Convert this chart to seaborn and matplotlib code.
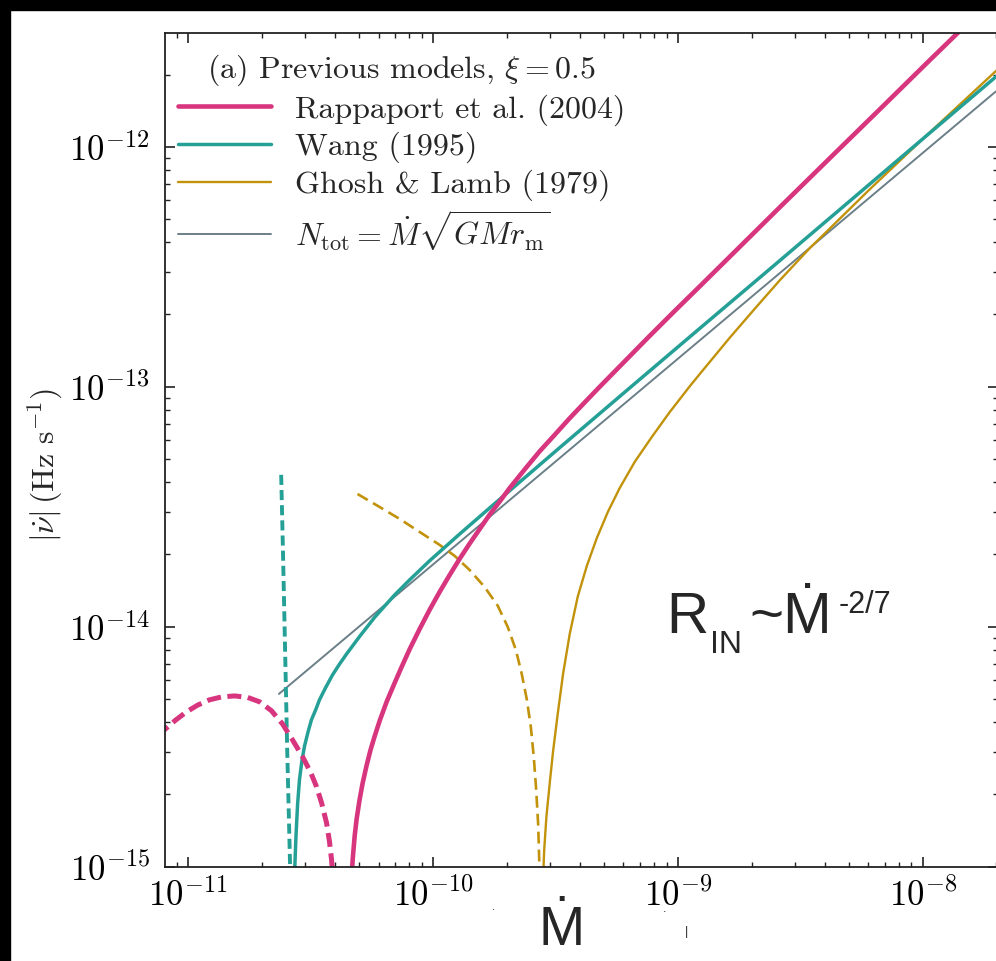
import numpy as np
import pandas as pd
import matplotlib
matplotlib.use("Agg")
import matplotlib.pyplot as plt
import seaborn as sns
from matplotlib.lines import Line2D
from matplotlib.patches import Rectangle

# ---------------- data ----------------
# Rappaport et al. (2004): solid (spin-up) branch
rap_x = [4.65e-11, 4.70e-11, 4.79e-11, 4.88e-11, 5.02e-11, 5.16e-11, 5.36e-11, 5.56e-11,
         5.78e-11, 6.06e-11, 6.47e-11, 6.98e-11, 7.45e-11, 8.03e-11, 8.82e-11, 9.69e-11,
         1.065e-10, 1.17e-10, 1.285e-10, 1.413e-10, 1.552e-10, 1.705e-10, 1.873e-10,
         2.058e-10, 2.37e-10, 2.729e-10, 3.143e-10, 3.619e-10, 4.168e-10, 4.799e-10,
         6.073e-10, 7.687e-10, 9.721e-10, 1.23e-9, 1.792e-9, 2.612e-9, 4.18e-9, 6.692e-9,
         1.071e-8, 1.381e-8, 1.636e-8]
rap_y = [8.80e-16, 1.066e-15, 1.34e-15, 1.58e-15, 1.905e-15, 2.22e-15, 2.64e-15, 3.06e-15,
         3.49e-15, 4.05e-15, 4.86e-15, 5.83e-15, 6.79e-15, 8.04e-15, 9.76e-15, 1.174e-14,
         1.395e-14, 1.64e-14, 1.915e-14, 2.22e-14, 2.55e-14, 2.93e-14, 3.32e-14,
         3.78e-14, 4.52e-14, 5.38e-14, 6.30e-14, 7.39e-14, 8.60e-14, 9.99e-14,
         1.276e-13, 1.63e-13, 2.07e-13, 2.62e-13, 3.83e-13, 5.60e-13, 8.97e-13, 1.435e-12,
         2.30e-12, 2.96e-12, 3.50e-12]
# Rappaport et al. (2004): dashed (spin-down) branch
rap_neg_x = [7.5e-12, 8.0e-12, 8.88e-12, 9.85e-12, 1.092e-11, 1.223e-11, 1.369e-11, 1.547e-11,
             1.748e-11, 1.957e-11, 2.19e-11, 2.43e-11, 2.67e-11, 2.934e-11, 3.16e-11,
             3.347e-11, 3.51e-11, 3.677e-11, 3.78e-11, 3.855e-11, 3.91e-11]
rap_neg_y = [3.50e-15, 3.71e-15, 4.07e-15, 4.41e-15, 4.70e-15, 4.95e-15, 5.09e-15, 5.14e-15,
             5.07e-15, 4.86e-15, 4.46e-15, 3.93e-15, 3.37e-15, 2.87e-15, 2.48e-15,
             2.15e-15, 1.84e-15, 1.52e-15, 1.27e-15, 1.066e-15, 8.8e-16]

# Wang (1995)
wang_x = [2.72e-11, 2.735e-11, 2.76e-11, 2.80e-11, 2.85e-11, 2.92e-11, 2.99e-11, 3.09e-11,
          3.19e-11, 3.32e-11, 3.44e-11, 3.64e-11, 3.89e-11, 4.16e-11, 4.44e-11, 5.02e-11,
          5.78e-11, 6.98e-11, 8.03e-11, 9.69e-11, 1.285e-10, 1.821e-10, 3.294e-10,
          6.37e-10, 1.23e-9, 2.49e-9, 5.05e-9, 9.75e-9, 1.99e-8, 2.17e-8]
wang_y = [8.80e-16, 1.066e-15, 1.356e-15, 1.81e-15, 2.297e-15, 2.78e-15, 3.18e-15, 3.64e-15,
          4.085e-15, 4.50e-15, 4.95e-15, 5.55e-15, 6.29e-15, 6.99e-15, 7.69e-15, 9.10e-15,
          1.093e-14, 1.356e-14, 1.565e-14, 1.88e-14, 2.43e-14, 3.31e-14, 5.57e-14,
          9.89e-14, 1.75e-13, 3.22e-13, 5.95e-13, 1.054e-12, 1.957e-12, 2.12e-12]
wang_neg_x = [2.40e-11, 2.44e-11, 2.49e-11, 2.54e-11, 2.61e-11, 2.626e-11]
wang_neg_y = [4.29e-14, 2.09e-14, 8.0e-15, 3.06e-15, 1.0e-15, 8.8e-16]

# Ghosh & Lamb (1979)
gl_x = [2.815e-10, 2.847e-10, 2.906e-10, 2.999e-10, 3.093e-10, 3.233e-10, 3.399e-10,
        3.619e-10, 3.90e-10, 4.25e-10, 4.67e-10, 5.18e-10, 5.79e-10, 6.67e-10, 7.83e-10,
        9.28e-10, 1.12e-9, 1.23e-9, 1.63e-9, 2.06e-9, 2.612e-9, 3.46e-9, 6.09e-9,
        1.071e-8, 1.993e-8, 2.17e-8]
gl_y = [8.80e-16, 1.174e-15, 1.61e-15, 2.23e-15, 3.01e-15, 4.33e-15, 6.35e-15,
        9.32e-15, 1.33e-14, 1.79e-14, 2.34e-14, 3.006e-14, 3.78e-14, 4.86e-14, 6.17e-14,
        7.85e-14, 1.005e-13, 1.13e-13, 1.60e-13, 2.11e-13, 2.78e-13, 3.78e-13, 6.66e-13,
        1.15e-12, 2.07e-12, 2.24e-12]
gl_neg_x = [4.92e-11, 6.06e-11, 7.31e-11, 8.82e-11, 1.065e-10, 1.227e-10, 1.413e-10,
            1.627e-10, 1.84e-10, 2.02e-10, 2.18e-10, 2.30e-10, 2.415e-10, 2.51e-10,
            2.58e-10, 2.64e-10, 2.69e-10, 2.716e-10, 2.729e-10]
gl_neg_y = [3.57e-14, 3.15e-14, 2.81e-14, 2.48e-14, 2.19e-14, 1.97e-14, 1.72e-14,
            1.46e-14, 1.22e-14, 9.97e-15, 8.0e-15, 6.41e-15, 5.00e-15, 3.82e-15,
            2.87e-15, 2.09e-15, 1.49e-15, 1.066e-15, 8.8e-16]

# N_tot = Mdot sqrt(G M r_m)
ntot_x = [2.35e-11, 1.23e-9, 1.99e-8]
ntot_y = [5.24e-15, 1.56e-13, 1.70e-12]

legend_title = r"(a) Previous models, $\xi = 0.5$"
labels = ["Rappaport et al. (2004)", "Wang (1995)", "Ghosh & Lamb (1979)",
          r"$N_{\rm tot} = \dot{M}\sqrt{GMr_{\rm m}}$"]

# ---------------- style ----------------
sns.set_style("ticks")
plt.rcParams["font.family"] = ["cmr10", "DejaVu Serif"]
plt.rcParams["mathtext.fontset"] = "cm"
plt.rcParams["axes.formatter.use_mathtext"] = True

PINK = "#d8357f"
TEAL = "#25a096"
GOLD = "#c1920a"
GREY = "#6b7f88"

W, H = 996, 961
fig = plt.figure(figsize=(W / 100, H / 100), dpi=100)
fig.patch.set_facecolor("white")
ax = fig.add_axes([165 / W, (H - 866.5) / H, (998 - 165) / W, (866.5 - 33.3) / H])
ax.set_facecolor("white")

def draw(x, y, color, lw, ls="-"):
    df = pd.DataFrame({"x": x, "y": y})
    sns.lineplot(data=df, x="x", y="y", ax=ax, color=color, lw=lw, sort=False,
                 estimator=None, linestyle=ls, legend=False)

draw(ntot_x, ntot_y, GREY, 1.4)
draw(gl_x, gl_y, GOLD, 1.7)
draw(gl_neg_x, gl_neg_y, GOLD, 1.9, (0, (4.5, 2.3)))
draw(wang_x, wang_y, TEAL, 2.5)
draw(wang_neg_x, wang_neg_y, TEAL, 2.8, (0, (2.6, 1.3)))
draw(rap_x, rap_y, PINK, 3.3)
draw(rap_neg_x, rap_neg_y, PINK, 3.6, (0, (2.8, 1.3)))

ax.set_xscale("log")
ax.set_yscale("log")
ax.set_xlim(8.05e-12, 2.03e-8)
ax.set_ylim(1e-15, 2.97e-12)
ax.set_xlabel("")
ax.set_ylabel("")

for s in ax.spines.values():
    s.set_linewidth(1.3)
    s.set_color("#222222")
ax.tick_params(which="both", direction="in", top=True, right=True, colors="#222222",
               labelsize=25, labelcolor="black")
ax.tick_params(which="major", length=7, width=1.2)
ax.tick_params(which="minor", length=3.5, width=1.0)
ax.tick_params(axis="x", pad=8)
ax.tick_params(axis="y", pad=11)

handles = [Line2D([], [], color=PINK, lw=3.3), Line2D([], [], color=TEAL, lw=2.5),
           Line2D([], [], color=GOLD, lw=1.7), Line2D([], [], color=GREY, lw=1.4)]
leg = ax.legend(handles, labels, title=legend_title, loc="upper left",
                bbox_to_anchor=(0.008, 0.985), frameon=False, fontsize=23,
                title_fontsize=23, handlelength=2.9, handletextpad=0.75,
                labelspacing=0.2, borderaxespad=0.0, borderpad=0.2)

fig.text(45 / W, 1 - 465 / H, r"$|\dot{\nu}|\,(\mathrm{Hz\ s^{-1}})$", rotation=90,
         ha="center", va="center", fontsize=23)

# annotation R_IN ~ Mdot^-2/7
sans = ["Liberation Sans", "DejaVu Sans"]
fig.text(666 / W, 1 - 633 / H, "R", family=sans, fontsize=42, va="baseline", ha="left")
fig.text(710 / W, 1 - 653 / H, "IN", family=sans, fontsize=23, va="baseline", ha="left")
fig.text(749 / W, 1 - 633 / H, "~Ṁ", family=sans, fontsize=42, va="baseline", ha="left")
fig.text(839 / W, 1 - 613 / H, "-2/7", family=sans, fontsize=22, va="baseline", ha="left")

# x label Mdot (narrow sans)
fig.text(562 / W, 1 - 945 / H, "Ṁ", family=["Liberation Sans Narrow", "Liberation Sans", "DejaVu Sans"],
         fontsize=40, va="baseline", ha="center")
fig.text(493 / W, 1 - 910 / H, ".", family=sans, fontsize=8, ha="center", va="baseline")
fig.text(665 / W, 1 - 912 / H, ".", family=sans, fontsize=9, ha="center", va="baseline")
fig.text(686 / W, 1 - 935 / H, "|", family=sans, fontsize=9, ha="center", va="baseline")

# black frame on top and left edges
fig.patches.append(Rectangle((0, 1 - 10 / H), 1, 10 / H, transform=fig.transFigure,
                             color="black", zorder=10))
fig.patches.append(Rectangle((0, 0), 10 / W, 1, transform=fig.transFigure,
                             color="black", zorder=10))

fig.savefig("out.png", dpi=100, facecolor="white")
